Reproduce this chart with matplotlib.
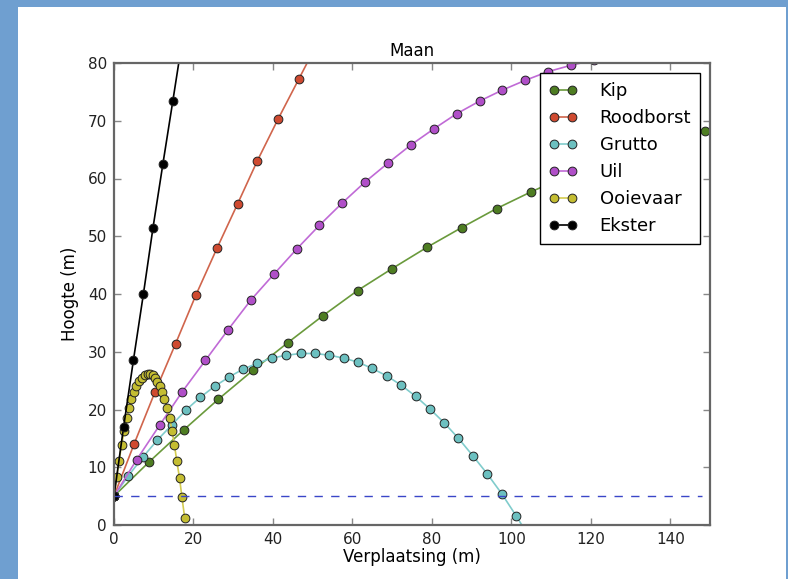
import matplotlib
matplotlib.use("Agg")
import matplotlib.pyplot as plt
from matplotlib.patches import Rectangle

# ---- data ----
kip_x = [0, 8.8, 17.6, 26.3, 35.0, 43.8, 52.5, 61.3, 70.0, 78.8, 87.5, 96.3, 105.0,
         113.8, 122.5, 131.3, 140.0, 148.8, 157.5]
kip_y = [5, 10.9, 16.5, 21.8, 26.8, 31.6, 36.2, 40.6, 44.4, 48.1, 51.5, 54.8, 57.7,
         60.4, 62.9, 65.0, 66.8, 68.3, 69.6]

roodborst_x = [0, 5.1, 10.3, 15.5, 20.6, 25.9, 31.1, 36.1, 41.3, 46.5, 51.6]
roodborst_y = [5, 14.1, 23.0, 31.4, 39.8, 47.9, 55.6, 63.1, 70.3, 77.2, 84.0]

grutto_x = [0, 3.6, 7.2, 10.9, 14.5, 18.1, 21.7, 25.3, 28.9, 32.5, 36.1, 39.7, 43.4,
            47.0, 50.6, 54.2, 57.8, 61.4, 65.0, 68.7, 72.3, 75.9, 79.5, 83.1, 86.7,
            90.3, 94.0, 97.6, 101.2, 104.8]
grutto_y = [5, 8.5, 11.7, 14.7, 17.3, 19.9, 22.1, 24.0, 25.6, 27.0, 28.0, 28.9, 29.4,
            29.7, 29.7, 29.4, 28.9, 28.2, 27.1, 25.8, 24.2, 22.3, 20.1, 17.7, 15.0,
            12.0, 8.8, 5.4, 1.6, -2.4]

uil_x = [0, 5.7, 11.5, 17.2, 23.0, 28.7, 34.5, 40.2, 46.0, 51.7, 57.5, 63.2, 69.0,
         74.7, 80.5, 86.2, 92.0, 97.7, 103.5, 109.2, 115.0, 120.7]
uil_y = [5, 11.3, 17.3, 23.1, 28.5, 33.8, 39.0, 43.4, 47.8, 51.9, 55.8, 59.4, 62.7,
         65.8, 68.6, 71.2, 73.4, 75.3, 77.0, 78.5, 79.6, 80.5]

ooievaar_x = [0, 0.7, 1.3, 1.9, 2.6, 3.2, 3.8, 4.4, 5.0, 5.6, 6.3, 7.0, 7.7, 8.5,
              9.1, 9.7, 10.3, 10.9, 11.5, 12.1, 12.7, 13.4, 14.0, 14.6, 15.2, 15.8,
              16.5, 17.1, 17.8]
ooievaar_y = [5, 8.3, 11.1, 13.9, 16.3, 18.5, 20.3, 21.9, 23.1, 24.1, 24.9, 25.5, 26.0,
              26.1, 26.1, 25.9, 25.4, 24.8, 24.0, 23.0, 21.8, 20.3, 18.5, 16.3, 13.9,
              11.1, 8.1, 4.8, 1.2]

ekster_x = [0, 2.4, 4.9, 7.4, 9.8, 12.3, 14.8, 17.2]
ekster_y = [5, 16.9, 28.6, 40.0, 51.4, 62.5, 73.4, 84.0]

ground_x = [0, 148]
ground_y = [5, 5]

series = [
    ("Kip", kip_x, kip_y, "#4e7d22"),
    ("Roodborst", roodborst_x, roodborst_y, "#cf4a30"),
    ("Grutto", grutto_x, grutto_y, "#6cc0c0"),
    ("Uil", uil_x, uil_y, "#b04fc8"),
    ("Ooievaar", ooievaar_x, ooievaar_y, "#c4bd32"),
    ("Ekster", ekster_x, ekster_y, "#000000"),
]
line_colors = {"Kip": "#6a9a3c", "Roodborst": "#d0654c", "Grutto": "#80cccc",
               "Uil": "#c06ad6", "Ooievaar": "#d4cc50", "Ekster": "#000000"}

fig = plt.figure(figsize=(7.88, 5.79), dpi=100)
fig.patch.set_facecolor("#6f9fd0")
bg = Rectangle((18 / 788, 0), 768 / 788, 572 / 579,
               transform=fig.transFigure, facecolor="white",
               edgecolor="none", zorder=-10)
fig.patches.append(bg)

ax = fig.add_axes([114 / 788, (579 - 525) / 579, (710 - 114) / 788, (525 - 63) / 579])
ax.set_zorder(1)
ax.set_facecolor("white")

for name, xs, ys, c in series:
    ax.plot(xs, ys, "-", color=line_colors[name], lw=1.2, marker="o", markersize=6.3,
            markerfacecolor=c, markeredgecolor="#222222", markeredgewidth=0.7,
            label=name)

ax.plot(ground_x, ground_y, "--", color="#3a46c8", lw=1.0, dashes=(6, 6))

ax.set_xlim(0, 150)
ax.set_ylim(0, 80)
ax.set_xticks([0, 20, 40, 60, 80, 100, 120, 140])
ax.set_yticks([0, 10, 20, 30, 40, 50, 60, 70, 80])
ax.tick_params(direction="in", top=True, right=True, length=5, width=1,
               color="#888888", labelsize=11, labelcolor="#222222", pad=5)
for s in ax.spines.values():
    s.set_color("#666666")
    s.set_linewidth(1.6)

ax.set_title("Maan", fontsize=12, pad=5)
ax.set_xlabel("Verplaatsing (m)", fontsize=12, labelpad=1)
ax.set_ylabel("Hoogte (m)", fontsize=12, labelpad=6)

leg = ax.legend(loc="upper right", fontsize=13, numpoints=2, handlelength=1.6,
                handletextpad=1.2, labelspacing=0.5, borderaxespad=0.55,
                fancybox=False, framealpha=1, borderpad=0.5)
leg.get_frame().set_edgecolor("black")
leg.get_frame().set_linewidth(1.0)

fig.savefig("out.png", dpi=100, facecolor=fig.get_facecolor())
